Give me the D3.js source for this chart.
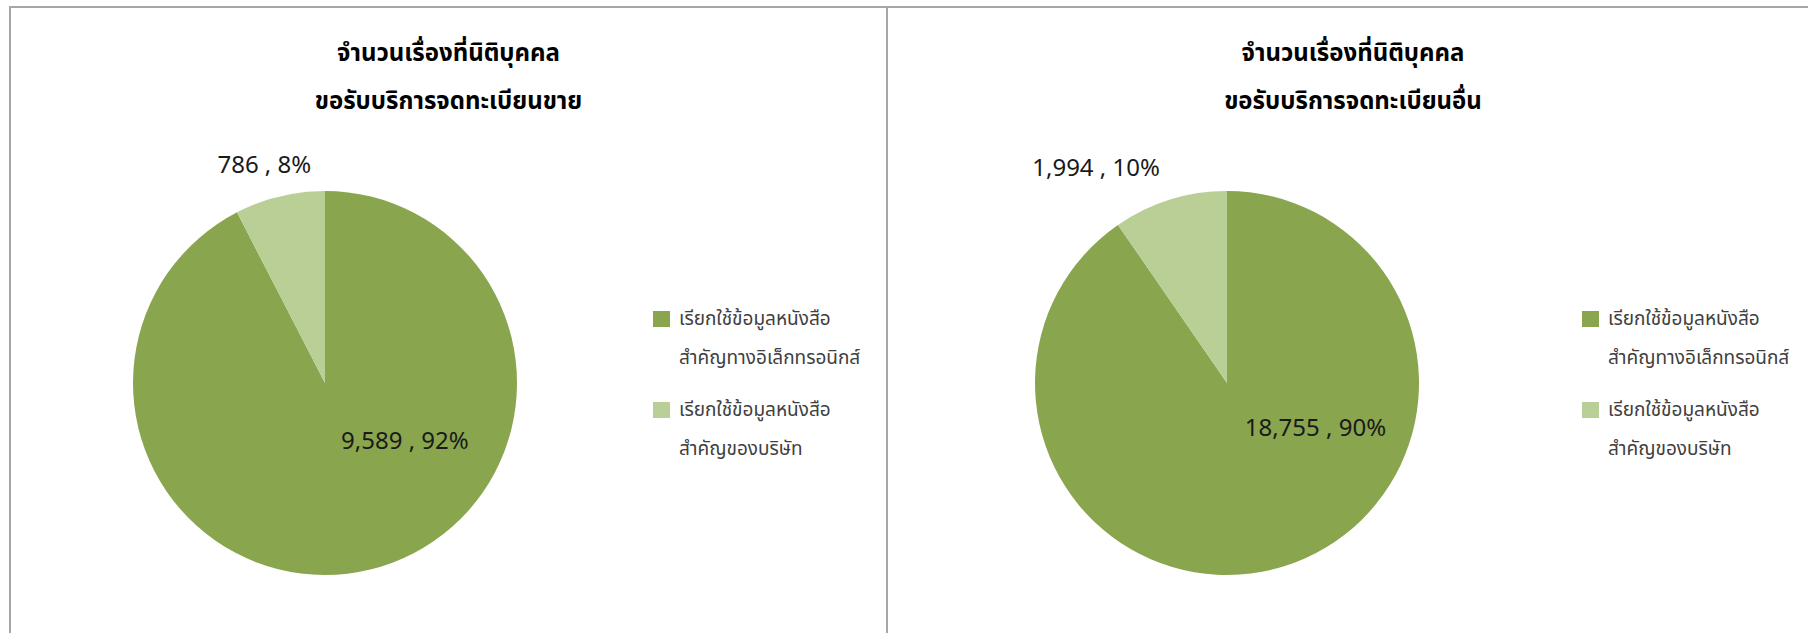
<!DOCTYPE html>
<html>
<head>
<meta charset="utf-8">
<script src="https://cdn.jsdelivr.net/npm/d3@7"></script>
<style>
  body { margin: 0; background: #fff; }
  svg { display: block; }
</style>
</head>
<body>
<div id="chartDiv"></div>
<script>

// data
var chartTitles = [
  ["จำนวนเรื่องที่นิติบุคคล", "ขอรับบริการจดทะเบียนขาย"],
  ["จำนวนเรื่องที่นิติบุคคล", "ขอรับบริการจดทะเบียนอื่น"]
];
var categoryLines = [
  ["เรียกใช้ข้อมูลหนังสือ", "สำคัญทางอิเล็กทรอนิกส์"],
  ["เรียกใช้ข้อมูลหนังสือ", "สำคัญของบริษัท"]
];
var salesValues = [9589, 786];
var otherValues = [18755, 1994];
var sliceColors = ["#89a54e", "#b9cf96"];

// layout for each panel (positions only)
var panels = [
  { x: 10, w: 877, cx: 325, legendX: 653, values: salesValues,
    nudge: [[55, -37], [-10, -1]] },
  { x: 887, w: 932, cx: 1227, legendX: 1582, values: otherValues,
    nudge: [[57, -48], [-67, -2]] }
];

var width = 1808, height = 633;
var cy = 383, radius = 192;
var thaiFont = "'Noto Sans Thai', Tahoma, 'Leelawadee UI', 'Noto Sans', sans-serif";

var svg = d3.select('#chartDiv').append('svg')
  .attr('width', width).attr('height', height);

var color = d3.scaleOrdinal().domain([0, 1]).range(sliceColors);
var pie = d3.pie().sort(null).value(function(d) { return d; });
var arc = d3.arc().innerRadius(0).outerRadius(radius);
var fmt = d3.format(',');

panels.forEach(function(p, k) {
  var g = svg.append('g');

  // panel frame
  g.append('rect')
    .attr('x', p.x).attr('y', 7)
    .attr('width', p.w).attr('height', 700)
    .attr('fill', 'none')
    .attr('stroke', '#a6a6a6')
    .attr('stroke-width', 2);

  var titleCx = p.x + p.w / 2;
  g.selectAll('text.title')
    .data(chartTitles[k])
    .enter().append('text')
    .attr('class', 'title')
    .attr('x', titleCx)
    .attr('y', function(d, i) { return 61 + i * 48; })
    .attr('text-anchor', 'middle')
    .attr('font-family', thaiFont)
    .attr('font-weight', 'bold')
    .attr('font-size', 24)
    .attr('fill', '#000')
    .text(function(d) { return d; });

  var total = d3.sum(p.values);
  var arcs = pie(p.values);

  var pieG = g.append('g').attr('transform', 'translate(' + p.cx + ',' + cy + ')');
  pieG.selectAll('path')
    .data(arcs)
    .enter().append('path')
    .attr('d', arc)
    .attr('fill', function(d, i) { return color(i); });

  // big slice label inside, small slice label outside
  var innerArc = d3.arc().innerRadius(radius * 0.55).outerRadius(radius * 0.55);
  var outerArc = d3.arc().innerRadius(215).outerRadius(215);
  pieG.selectAll('text.lbl')
    .data(arcs)
    .enter().append('text')
    .attr('class', 'lbl')
    .attr('transform', function(d, i) {
      var c = (i === 0 ? innerArc : outerArc).centroid(d);
      return 'translate(' + (c[0] + p.nudge[i][0]) + ',' + (c[1] + p.nudge[i][1]) + ')';
    })
    .attr('text-anchor', 'middle')
    .attr('font-family', "'Noto Sans', sans-serif")
    .attr('font-size', 24)
    .attr('fill', '#1a1a1a')
    .text(function(d) {
      return fmt(d.data) + ' , ' + Math.round(d.data / total * 100) + '%';
    });

  // legend
  var leg = g.selectAll('g.leg')
    .data(categoryLines)
    .enter().append('g')
    .attr('class', 'leg')
    .attr('transform', function(d, i) { return 'translate(' + p.legendX + ',' + (311 + i * 91) + ')'; });

  leg.append('rect')
    .attr('width', 17).attr('height', 16)
    .attr('fill', function(d, i) { return color(i); });

  leg.selectAll('text')
    .data(function(d) { return d; })
    .enter().append('text')
    .attr('x', 26)
    .attr('y', function(d, i) { return 14 + i * 39; })
    .attr('font-family', thaiFont)
    .attr('font-size', 19)
    .attr('fill', '#404040')
    .text(function(d) { return d; });
});

</script>
</body>
</html>
